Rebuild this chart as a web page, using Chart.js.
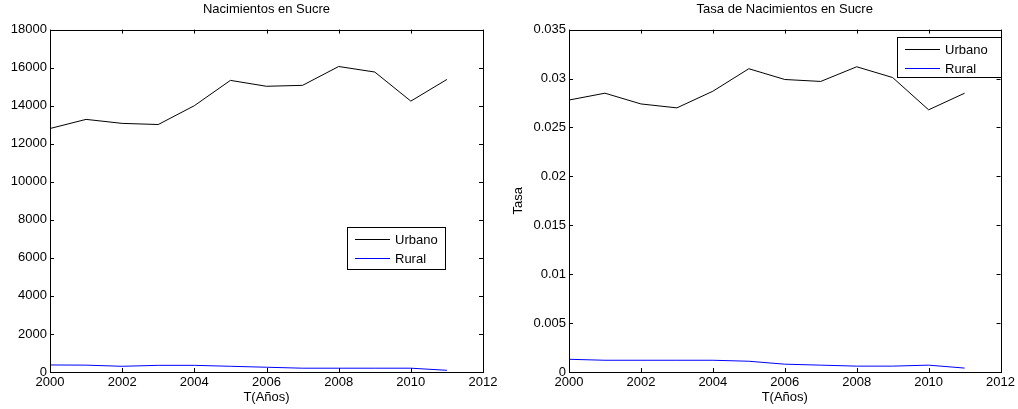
<!DOCTYPE html>
<html>
<head>
<meta charset="utf-8">
<script src="https://cdn.jsdelivr.net/npm/chart.js@4"></script>
<style>
  html, body { margin: 0; padding: 0; background: #fff; }
  .box { position: absolute; top: 0; width: 509px; height: 409px; }
</style>
</head>
<body>
<div class="box" style="left:0"><canvas id="birthsChart" width="509" height="409"></canvas></div>
<div class="box" style="left:509px"><canvas id="rateChart" width="509" height="409"></canvas></div>
<script>
// data
const years = [2000, 2001, 2002, 2003, 2004, 2005, 2006, 2007, 2008, 2009, 2010, 2011];
const urbanBirths = [12800, 13280, 13070, 13010, 14000, 15330, 15020, 15070, 16060, 15770, 14240, 15380];
const ruralBirths = [370, 360, 300, 350, 350, 300, 250, 200, 200, 200, 200, 90];
const urbanRate = [0.0278, 0.0285, 0.0274, 0.0270, 0.0287, 0.0310, 0.0299, 0.0297, 0.0312, 0.0301, 0.0268, 0.0285];
const ruralRate = [0.0013, 0.0012, 0.0012, 0.0012, 0.0012, 0.0011, 0.0008, 0.0007, 0.0006, 0.0006, 0.0007, 0.0004];
const seriesNames = ['Urbano', 'Rural'];
const xTitle = 'T(Años)';

const FONT = 'Liberation Sans, Arial, Helvetica, sans-serif';
Chart.defaults.font.family = FONT;
Chart.defaults.font.size = 13;
Chart.defaults.color = '#000';

function pts(vals) {
    return vals.map((v, i) => ({ x: years[i], y: v }));
}

// matlab style box with inward ticks + legend inside the axes
const matlabBox = {
    id: 'matlabBox',
    afterDraw(chart, args, opts) {
        const ctx = chart.ctx;
        const a = chart.chartArea;
        ctx.save();
        ctx.strokeStyle = '#000';
        ctx.lineWidth = 1;
        ctx.strokeRect(Math.round(a.left) + 0.5, Math.round(a.top) + 0.5,
            Math.round(a.right - a.left), Math.round(a.bottom - a.top));
        const tl = 4;
        ctx.beginPath();
        const xs = chart.scales.x;
        xs.ticks.forEach(t => {
            const px = Math.round(xs.getPixelForValue(t.value)) + 0.5;
            ctx.moveTo(px, a.bottom); ctx.lineTo(px, a.bottom - tl);
            ctx.moveTo(px, a.top); ctx.lineTo(px, a.top + tl);
        });
        const ys = chart.scales.y;
        ys.ticks.forEach(t => {
            const py = Math.round(ys.getPixelForValue(t.value)) + 0.5;
            ctx.moveTo(a.left, py); ctx.lineTo(a.left + tl, py);
            ctx.moveTo(a.right, py); ctx.lineTo(a.right - tl, py);
        });
        ctx.stroke();

        // legend
        const L = opts.legend;
        ctx.fillStyle = '#fff';
        ctx.fillRect(L.x, L.y, L.w, L.h);
        ctx.strokeRect(L.x + 0.5, L.y + 0.5, L.w, L.h);
        ctx.font = '13px ' + FONT;
        ctx.textBaseline = 'middle';
        ctx.textAlign = 'left';
        chart.data.datasets.forEach((ds, i) => {
            const ry = L.y + 12.5 + i * 19;
            ctx.strokeStyle = ds.borderColor;
            ctx.beginPath();
            ctx.moveTo(L.x + 8, ry); ctx.lineTo(L.x + 43, ry);
            ctx.stroke();
            ctx.fillStyle = '#000';
            ctx.fillText(ds.label, L.x + 48, ry + 1);
        });
        ctx.restore();
    }
};

function makeChart(id, title, urban, rural, yOpts, yTitle, axisWidth, padRight, legend) {
    return new Chart(document.getElementById(id), {
        type: 'line',
        data: {
            datasets: [
                { label: seriesNames[0], data: pts(urban), borderColor: '#000', borderWidth: 1, pointRadius: 0, tension: 0 },
                { label: seriesNames[1], data: pts(rural), borderColor: '#0000ff', borderWidth: 1, pointRadius: 0, tension: 0 }
            ]
        },
        options: {
            responsive: false,
            animation: false,
            layout: { padding: { left: 0, right: padRight, top: 0, bottom: 0 } },
            plugins: {
                legend: { display: false },
                tooltip: { enabled: false },
                title: {
                    display: true, text: title, fullSize: false,
                    font: { size: 13, weight: 'normal' }, color: '#000',
                    padding: { top: 2, bottom: 12 }
                },
                matlabBox: { legend: legend }
            },
            scales: {
                x: {
                    type: 'linear', min: 2000, max: 2012,
                    grid: { display: false, drawTicks: false },
                    border: { display: false },
                    ticks: { stepSize: 2, padding: 3, maxRotation: 0, callback: v => String(v) },
                    title: { display: true, text: xTitle, padding: { top: 0, bottom: 4 } },
                    afterFit: s => { s.height = 37; }
                },
                y: Object.assign({
                    grid: { display: false, drawTicks: false },
                    border: { display: false },
                    title: { display: !!yTitle, text: yTitle || '', padding: { top: 2, bottom: 0 } },
                    afterFit: s => { s.width = axisWidth; }
                }, yOpts)
            }
        },
        plugins: [matlabBox]
    });
}

makeChart('birthsChart', 'Nacimientos en Sucre', urbanBirths, ruralBirths,
    { min: 0, max: 18000, ticks: { stepSize: 2000, padding: 3, callback: v => String(v) } },
    null, 50, 26, { x: 347, y: 227, w: 98, h: 42 });

makeChart('rateChart', 'Tasa de Nacimientos en Sucre', urbanRate, ruralRate,
    { min: 0, max: 0.035, ticks: { stepSize: 0.005, padding: 3, callback: v => String(+v.toFixed(3)) } },
    'Tasa', 60, 15, { x: 897 - 509, y: 37, w: 104, h: 40 });
</script>
</body>
</html>
